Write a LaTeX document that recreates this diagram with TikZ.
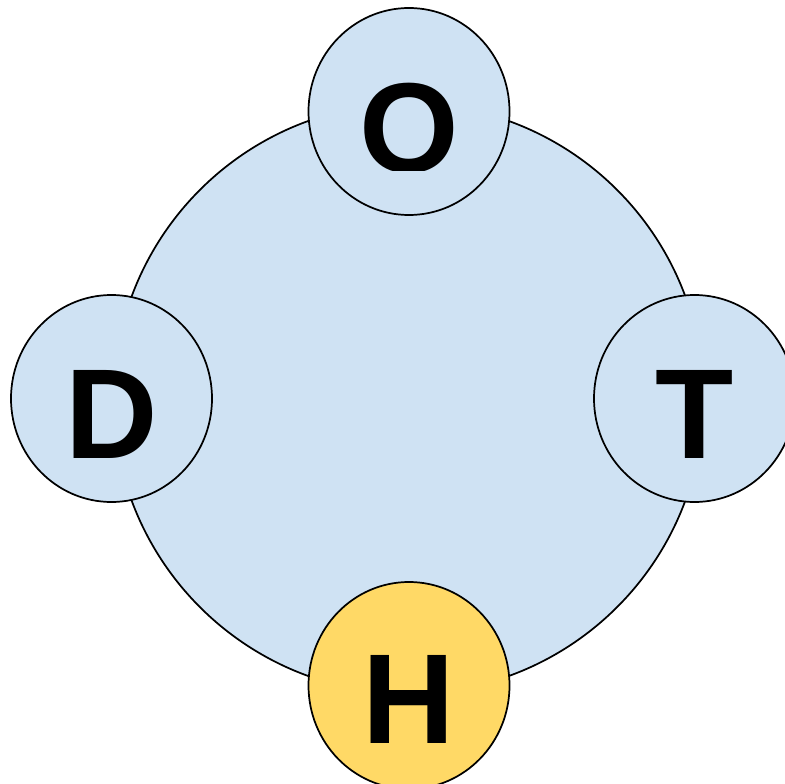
\documentclass[tikz,border=0pt]{standalone}
\usepackage{fontspec}
\setmainfont{Liberation Sans}
\usetikzlibrary{shapes.geometric}
\definecolor{ringblue}{RGB}{207, 226, 243}
\definecolor{hotyellow}{RGB}{255, 217, 102}
\tikzset{
    ring/.style={
        circle, draw=black, line width=1.3pt, fill=ringblue,
        minimum size=442.5pt, inner sep=0pt
    },
    ball/.style={
        ellipse, draw=black, line width=1.3pt, fill=ringblue,
        minimum width=150.75pt, minimum height=155.25pt, inner sep=0pt
    },
    hotball/.style={ball, fill=hotyellow},
    letter/.style={font=\fontsize{96}{96}\selectfont\bfseries, inner sep=0pt},
}

\begin{document}
\begin{tikzpicture}[x=0.75pt, y=-0.75pt]
    \useasboundingbox (0,0) rectangle (785,784);
    \clip (0,0) rectangle (785,784);
    \node[ring] (ring) at (408.5,398.5) {};
    \node[ball] (o) at (409,111.5) {};
    \node[ball] (d) at (111.5,398.5) {};
    \node[ball] (t) at (694.5,398.5) {};
    \node[hotball] (h) at (409,685.5) {};
    % letters sit a bit below the ball centres, the O is cut off at the bottom
    \begin{scope}
        \clip (300,0) rectangle (520,171);
        \node[letter] (olbl) at ([yshift=-12.4pt]o.center) {O};
    \end{scope}
    \node[letter] (dlbl) at ([yshift=-11.6pt]d.center) {D};
    \node[letter] (tlbl) at ([yshift=-11.6pt]t.center) {T};
    \node[letter] (hlbl) at ([yshift=-10.2pt]h.center) {H};
\end{tikzpicture}
\end{document}
